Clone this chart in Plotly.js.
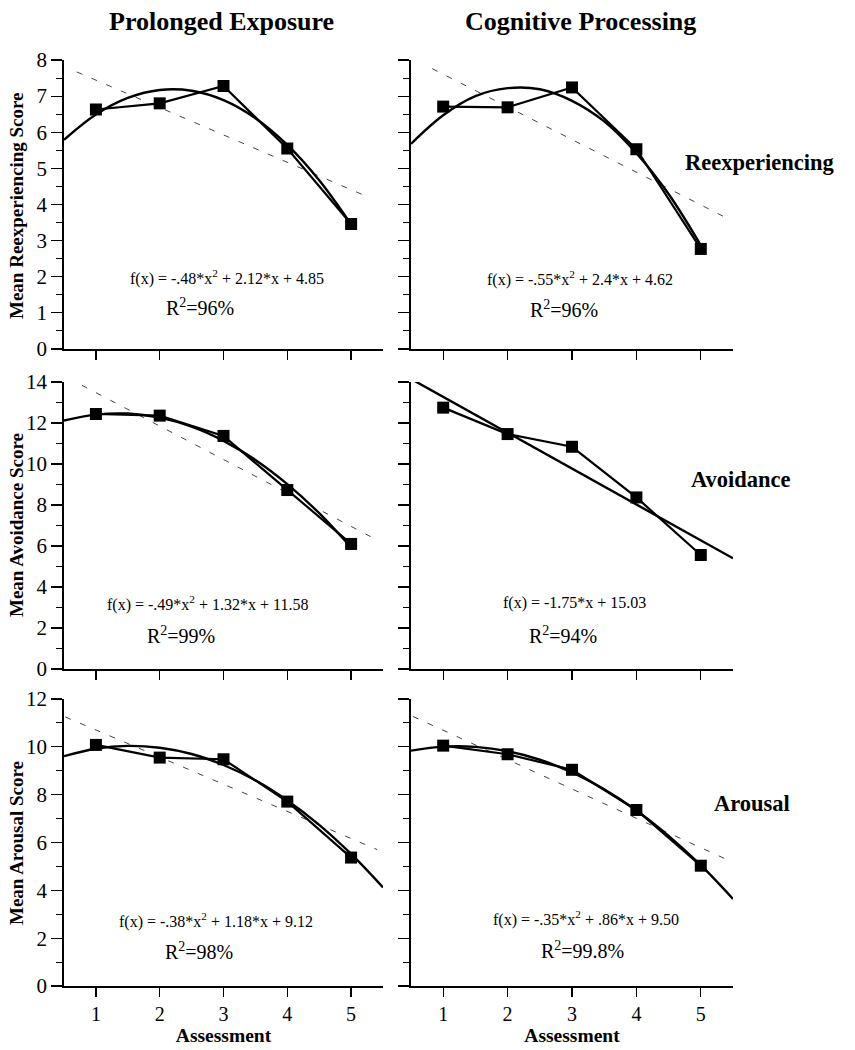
<!DOCTYPE html>
<html>
<head>
<meta charset="utf-8">
<script src="https://cdn.plot.ly/plotly-3.0.1.min.js"></script>
<style>html,body{margin:0;padding:0;background:#fff;}#chart{width:855px;height:1050px;}</style>
</head>
<body>
<div id="chart"></div>
<script>
// ---- data ----
const assessments = [1, 2, 3, 4, 5];
const assessmentLabels = ['1', '2', '3', '4', '5'];

const peReexp     = [6.63, 6.80, 7.28, 5.55, 3.46];
const cptReexp    = [6.71, 6.69, 7.24, 5.53, 2.77];
const peAvoid     = [12.44, 12.36, 11.37, 8.73, 6.10];
const cptAvoid    = [12.75, 11.46, 10.84, 8.37, 5.56];
const peArousal   = [10.08, 9.55, 9.48, 7.71, 5.37];
const cptArousal  = [10.05, 9.69, 9.04, 7.36, 5.03];

// fitted curves
const fitX5  = [0.5, 1, 1.5, 2, 2.5, 3, 3.5, 4, 4.5, 5];
const fitX55 = [0.5, 1, 1.5, 2, 2.5, 3, 3.5, 4, 4.5, 5, 5.5];
const peReexpFit    = [5.79, 6.49, 6.95, 7.17, 7.15, 6.89, 6.39, 5.65, 4.67, 3.45];
const cptReexpFit   = [5.68, 6.47, 7.00, 7.22, 7.19, 6.87, 6.30, 5.42, 4.29, 2.87];
const peAvoidFit    = [12.12, 12.41, 12.46, 12.26, 11.82, 11.13, 10.20, 9.02, 7.60, 5.93];
const cptAvoidFitX  = [0.5, 5.5];
const cptAvoidFit   = [14.15, 5.40];
const peArousalFit  = [9.61, 9.92, 10.04, 9.96, 9.70, 9.24, 8.60, 7.76, 6.74, 5.52, 4.12];
const cptArousalFit = [9.84, 10.01, 10.00, 9.82, 9.46, 8.93, 8.22, 7.34, 6.28, 5.05, 3.64];

// dashed linear trend lines (end points)
const peReexpTrendX   = [0.70, 5.25], peReexpTrend   = [7.67, 4.22];
const cptReexpTrendX  = [0.83, 5.43], cptReexpTrend  = [7.76, 3.60];
const peAvoidTrendX   = [0.78, 5.39], peAvoidTrend   = [13.84, 6.32];
const peArousalTrendX = [0.52, 5.41], peArousalTrend = [11.25, 5.70];
const cptArousalTrendX= [0.53, 5.50], cptArousalTrend= [11.27, 5.17];

const columnTitles = ['Prolonged Exposure', 'Cognitive Processing'];
const rowLabels = ['Reexperiencing', 'Avoidance', 'Arousal'];
const yTitles = ['Mean Reexperiencing Score', 'Mean Avoidance Score', 'Mean Arousal Score'];
const formulas = [
  'f(x) = -.48*x<sup>2</sup> + 2.12*x + 4.85', 'f(x) = -.55*x<sup>2</sup> + 2.4*x + 4.62',
  'f(x) = -.49*x<sup>2</sup> + 1.32*x + 11.58', 'f(x) = -1.75*x + 15.03',
  'f(x) = -.38*x<sup>2</sup> + 1.18*x + 9.12', 'f(x) = -.35*x<sup>2</sup> + .86*x + 9.50'
];
const rSquared = ['R<sup>2</sup>=96%', 'R<sup>2</sup>=96%', 'R<sup>2</sup>=99%', 'R<sup>2</sup>=94%', 'R<sup>2</sup>=98%', 'R<sup>2</sup>=99.8%'];

// ---- geometry ----
const W = 855, H = 1050;
const px = x => x / W;
const py = y => 1 - y / H;
const FONT = 'Liberation Serif, Times New Roman, serif';

const colX = [[64, 383], [411, 733]];
const rowY = [[60, 349], [382, 669], [699, 986]];
const yRanges = [[0, 8], [0, 14], [0, 12]];
const yDticks = [1, 2, 2];
const yMinor = [0.5, 1, 1];

const panels = [
  {data: peReexp,    fx: fitX5,  fy: peReexpFit,   tx: peReexpTrendX,   ty: peReexpTrend},
  {data: cptReexp,   fx: fitX5,  fy: cptReexpFit,  tx: cptReexpTrendX,  ty: cptReexpTrend},
  {data: peAvoid,    fx: fitX5,  fy: peAvoidFit,   tx: peAvoidTrendX,   ty: peAvoidTrend},
  {data: cptAvoid,   fx: cptAvoidFitX, fy: cptAvoidFit, tx: null, ty: null},
  {data: peArousal,  fx: fitX55, fy: peArousalFit, tx: peArousalTrendX, ty: peArousalTrend},
  {data: cptArousal, fx: fitX55, fy: cptArousalFit,tx: cptArousalTrendX,ty: cptArousalTrend}
];

const traces = [];
const layout = {
  width: W, height: H,
  margin: {l: 0, r: 0, t: 0, b: 0},
  paper_bgcolor: '#fff', plot_bgcolor: '#fff',
  showlegend: false,
  font: {family: FONT, color: '#000'},
  annotations: []
};

panels.forEach((p, i) => {
  const r = Math.floor(i / 2), c = i % 2;
  const n = i + 1;
  const xa = 'x' + (n === 1 ? '' : n), ya = 'y' + (n === 1 ? '' : n);
  const xk = 'xaxis' + (n === 1 ? '' : n), yk = 'yaxis' + (n === 1 ? '' : n);

  if (p.tx) {
    traces.push({x: p.tx, y: p.ty, xaxis: xa, yaxis: ya, mode: 'lines',
      line: {color: '#444', width: 1, dash: '6px,10px'}, hoverinfo: 'skip'});
  }
  traces.push({x: p.fx, y: p.fy, xaxis: xa, yaxis: ya, mode: 'lines',
    line: {color: '#000', width: 2.4, shape: p.fx.length > 2 ? 'spline' : 'linear'}, hoverinfo: 'skip'});
  traces.push({x: assessments, y: p.data, xaxis: xa, yaxis: ya, mode: 'lines+markers',
    line: {color: '#000', width: 2.2}, marker: {symbol: 'square', size: 12, color: '#000'}});

  layout[xk] = {
    domain: [px(colX[c][0]), px(colX[c][1])], anchor: ya,
    range: [0.5, 5.5], showgrid: false, zeroline: false,
    showline: true, linecolor: '#000', linewidth: 1.8,
    ticks: 'outside', ticklen: 9, tickwidth: 1.3, tickcolor: '#000',
    tickvals: assessments, ticktext: assessmentLabels,
    showticklabels: r === 2, tickfont: {family: FONT, size: 20, color: '#000'},
    title: r === 2 ? {text: '<b>Assessment</b>', font: {family: FONT, size: 19.5, color: '#000'}, standoff: 0} : {text: ''}
  };
  layout[yk] = {
    domain: [py(rowY[r][1]), py(rowY[r][0])], anchor: xa,
    range: yRanges[r], showgrid: false, zeroline: false,
    showline: true, linecolor: '#000', linewidth: 1.8,
    ticks: 'outside', ticklen: 11, tickwidth: 1.2, tickcolor: '#000',
    dtick: yDticks[r], tick0: 0,
    minor: {dtick: yMinor[r], ticks: 'outside', ticklen: 6, tickwidth: 1, tickcolor: '#000'},
    showticklabels: c === 0, tickfont: {family: FONT, size: 21, color: '#000'}
  };
});

// formula / R² annotations (pixel positions of text centres)
const formulaPos = [[227, 277], [580, 278], [207, 603], [574, 603], [216, 920], [586, 918]];
const rPos = [[200, 307], [564, 309], [181, 635], [563, 635], [199, 951], [582, 950]];
formulas.forEach((t, i) => {
  layout.annotations.push({text: t, xref: 'paper', yref: 'paper', x: px(formulaPos[i][0]), y: py(formulaPos[i][1]),
    xanchor: 'center', yanchor: 'middle', showarrow: false, font: {family: FONT, size: 16, color: '#000'}});
  layout.annotations.push({text: rSquared[i], xref: 'paper', yref: 'paper', x: px(rPos[i][0]), y: py(rPos[i][1]),
    xanchor: 'center', yanchor: 'middle', showarrow: false, font: {family: FONT, size: 20, color: '#000'}});
});

// column titles
const colTitleX = [221, 580];
columnTitles.forEach((t, i) => layout.annotations.push({text: '<b>' + t + '</b>', xref: 'paper', yref: 'paper',
  x: px(colTitleX[i]), y: py(21), xanchor: 'center', yanchor: 'middle', showarrow: false,
  font: {family: FONT, size: 26, color: '#000'}}));

// row labels
const rowLabelPos = [[759, 163], [741, 480], [752, 803]];
rowLabels.forEach((t, i) => layout.annotations.push({text: '<b>' + t + '</b>', xref: 'paper', yref: 'paper',
  x: px(rowLabelPos[i][0]), y: py(rowLabelPos[i][1]), xanchor: 'center', yanchor: 'middle', showarrow: false,
  font: {family: FONT, size: 22.5, color: '#000'}}));

// y-axis titles (rotated)
const yTitleY = [206, 525, 843];
yTitles.forEach((t, i) => layout.annotations.push({text: '<b>' + t + '</b>', xref: 'paper', yref: 'paper',
  x: px(16), y: py(yTitleY[i]), xanchor: 'center', yanchor: 'middle', textangle: -90, showarrow: false,
  font: {family: FONT, size: 19, color: '#000'}}));

Plotly.newPlot('chart', traces, layout, {staticPlot: true, displayModeBar: false});
</script>
</body>
</html>
